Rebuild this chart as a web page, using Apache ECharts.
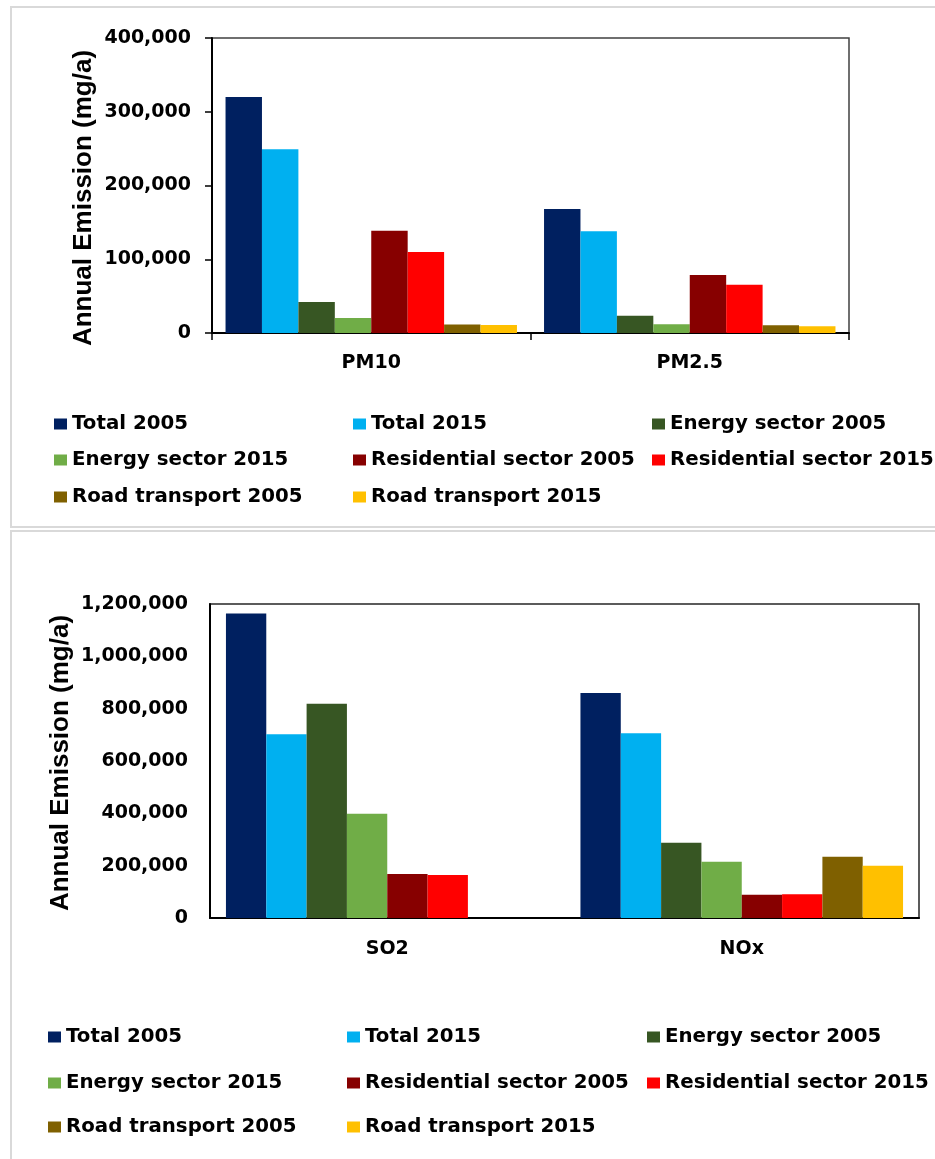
<!DOCTYPE html>
<html>
<head>
<meta charset="utf-8">
<script src="https://cdn.jsdelivr.net/npm/echarts@6/dist/echarts.min.js"></script>
<style>
  html, body { margin:0; padding:0; background:#fff; }
  #chart { width:935px; height:1159px; }
</style>
</head>
<body>
<div id="chart"></div>
<script>
// ---- data ----
const categoriesPM = ['PM10', 'PM2.5'];
const categoriesGas = ['SO2', 'NOx'];
const seriesNames = ['Total 2005', 'Total 2015', 'Energy sector 2005', 'Energy sector 2015',
  'Residential sector 2005', 'Residential sector 2015', 'Road transport 2005', 'Road transport 2015'];
const pm10 = [320000, 249000, 42000, 20500, 138500, 110000, 11500, 11000];
const pm25 = [168000, 138000, 23500, 12000, 78500, 65500, 10500, 9000];
const so2  = [1164000, 702000, 819000, 398000, 168000, 164000, 0, 0];
const nox  = [860000, 706000, 288000, 215000, 89000, 91000, 234000, 200000];
const ticksPM = [0, 100000, 200000, 300000, 400000];
const ticksGas = [0, 200000, 400000, 600000, 800000, 1000000, 1200000];
const axisTitle = 'Annual Emission (mg/a)';

// ---- styles ----
const colors = ['#002060', '#00B0F0', '#375623', '#70AD47', '#870000', '#FF0000', '#7F6000', '#FFC000'];
const FONT = 'DejaVu Sans';
const labelStyle = { fontFamily: FONT, fontSize: 19, fontWeight: 'bold', color: '#000' };
const fmt = v => Number(v).toLocaleString('en-US');

const chart = echarts.init(document.getElementById('chart'), null, { renderer: 'canvas' });

const series = [];
seriesNames.forEach((name, i) => {
  series.push({
    name, type: 'bar', xAxisIndex: 0, yAxisIndex: 0,
    data: [pm10[i], pm25[i]],
    itemStyle: { color: colors[i] },
    barGap: '0%', barCategoryGap: '8.5%'
  });
  series.push({
    name, type: 'bar', xAxisIndex: 1, yAxisIndex: 1,
    data: [so2[i], nox[i]],
    itemStyle: { color: colors[i] },
    barGap: '0%', barCategoryGap: '9%'
  });
});

const legends = [];
const legendCols = [[54, 353, 652], [48, 347, 647]];
const legendRows = [[425, 461, 498], [1038, 1084, 1128]];
[0, 1].forEach(c => {
  seriesNames.forEach((name, i) => {
    legends.push({
      data: [name],
      left: legendCols[c][i % 3],
      top: legendRows[c][Math.floor(i / 3)] - 11,
      orient: 'horizontal',
      padding: 0, itemGap: 0,
      itemWidth: 13, itemHeight: 11,
      selectedMode: false,
      icon: 'rect',
      textStyle: { fontFamily: FONT, fontSize: 19.8, fontWeight: 'bold', color: '#000' }
    });
  });
});

const option = {
  animation: false,
  backgroundColor: '#fff',
  grid: [
    { left: 212, top: 38, width: 637, height: 295, show: true, borderColor: '#404040', borderWidth: 1.5, backgroundColor: 'transparent' },
    { left: 210, top: 604, width: 709, height: 314, show: true, borderColor: '#262626', borderWidth: 1.5, backgroundColor: 'transparent' }
  ],
  xAxis: [
    { type: 'category', gridIndex: 0, data: categoriesPM,
      axisLine: { lineStyle: { color: '#000', width: 2 } },
      axisTick: { show: true, length: 7, lineStyle: { color: '#000', width: 1.5 } },
      axisLabel: Object.assign({ margin: 21 }, labelStyle) },
    { type: 'category', gridIndex: 1, data: categoriesGas,
      axisLine: { lineStyle: { color: '#000', width: 2 } },
      axisTick: { show: false },
      axisLabel: Object.assign({ margin: 22 }, labelStyle) }
  ],
  yAxis: [
    { type: 'value', gridIndex: 0, min: ticksPM[0], max: ticksPM[ticksPM.length - 1], interval: ticksPM[1] - ticksPM[0],
      axisLine: { show: true, lineStyle: { color: '#000', width: 2 } },
      axisTick: { show: true, length: 7, lineStyle: { color: '#000', width: 1.5 } },
      splitLine: { show: false },
      axisLabel: Object.assign({ margin: 21, formatter: fmt }, labelStyle) },
    { type: 'value', gridIndex: 1, min: ticksGas[0], max: ticksGas[ticksGas.length - 1], interval: ticksGas[1] - ticksGas[0],
      axisLine: { show: true, lineStyle: { color: '#000', width: 2 } },
      axisTick: { show: false },
      splitLine: { show: false },
      axisLabel: Object.assign({ margin: 22, formatter: fmt }, labelStyle) }
  ],
  legend: legends,
  graphic: [
    { type: 'rect', z: -1, shape: { x: 11, y: 7, width: 940, height: 520 },
      style: { fill: 'none', stroke: '#d9d9d9', lineWidth: 2 } },
    { type: 'rect', z: -1, shape: { x: 11, y: 531, width: 940, height: 650 },
      style: { fill: 'none', stroke: '#d9d9d9', lineWidth: 2 } },
    { type: 'text', x: 84, y: 198, rotation: Math.PI / 2,
      style: { text: axisTitle, fontFamily: 'Liberation Sans', fontSize: 26, fontWeight: 'bold', fill: '#000', align: 'center', verticalAlign: 'middle' } },
    { type: 'text', x: 61, y: 763, rotation: Math.PI / 2,
      style: { text: axisTitle, fontFamily: 'Liberation Sans', fontSize: 26, fontWeight: 'bold', fill: '#000', align: 'center', verticalAlign: 'middle' } }
  ],
  series
};
chart.setOption(option);
</script>
</body>
</html>
